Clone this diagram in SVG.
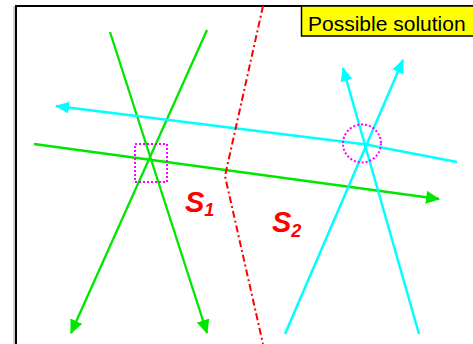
<svg xmlns="http://www.w3.org/2000/svg" width="473" height="344" viewBox="0 0 473 344">
  <style>
    .g { stroke: #00e600; stroke-width: 2.3; fill: none; }
    .c { stroke: #00ffff; stroke-width: 2.5; fill: none; }
    .sep { stroke: #ff0000; stroke-width: 2; fill: none; stroke-dasharray: 7 3 2 3; }
    .mark { stroke: #ff00ff; stroke-width: 2; fill: none; stroke-dasharray: 2 2; }
    .lbl { font-family: "Liberation Sans", Arial, sans-serif; font-weight: bold; font-style: italic; fill: #ff0000; }
  </style>
  <defs>
    <marker id="ag" markerUnits="userSpaceOnUse" markerWidth="14" markerHeight="14" viewBox="0 0 14 14" refX="13" refY="7" orient="auto">
      <path d="M0,0.5 L14,7 L0,13.5 z" fill="#00e600"/>
    </marker>
    <marker id="ac" markerUnits="userSpaceOnUse" markerWidth="14" markerHeight="14" viewBox="0 0 14 14" refX="13" refY="7" orient="auto">
      <path d="M0,1 L14,7 L0,13 z" fill="#00ffff"/>
    </marker>
  </defs>
  <rect width="473" height="344" fill="#ffffff"/>
  <g id="frame">
    <line x1="14" y1="6" x2="14" y2="344" stroke="#999999" stroke-width="1"/>
    <rect x="16" y="6" width="470" height="350" fill="none" stroke="#000000" stroke-width="2"/>
  </g>
  <g id="title">
    <rect x="301.5" y="6" width="180" height="30" fill="#ffff00" stroke="#000000" stroke-width="1.5"/>
    <text x="308" y="31" font-family="Liberation Sans, Arial, sans-serif" font-size="21" fill="#000000">Possible solution</text>
  </g>
  <g id="connectors">
    <line class="g" x1="110" y1="32" x2="207" y2="333" marker-end="url(#ag)"/>
    <line class="g" x1="207" y1="30" x2="71" y2="333" marker-end="url(#ag)"/>
    <line class="g" x1="34" y1="144" x2="439" y2="199" marker-end="url(#ag)"/>
    <polyline class="c" points="457,162 366,144.5 56,106" marker-end="url(#ac)"/>
    <line class="c" x1="285" y1="334" x2="403" y2="60" marker-end="url(#ac)"/>
    <line class="c" x1="419" y1="334" x2="343" y2="68" marker-end="url(#ac)"/>
    <polyline class="sep" points="263,6 225,176 263,344"/>
  </g>
  <g id="markers">
    <rect class="mark" x="135" y="144" width="32" height="38"/>
    <circle class="mark" cx="362" cy="143.5" r="19"/>
  </g>
  <g id="S1">
    <text class="lbl" x="185" y="212" font-size="29">S<tspan font-size="18" dy="4">1</tspan></text>
  </g>
  <g id="S2">
    <text class="lbl" x="272" y="232" font-size="29">S<tspan font-size="18" dy="5">2</tspan></text>
  </g>
</svg>
